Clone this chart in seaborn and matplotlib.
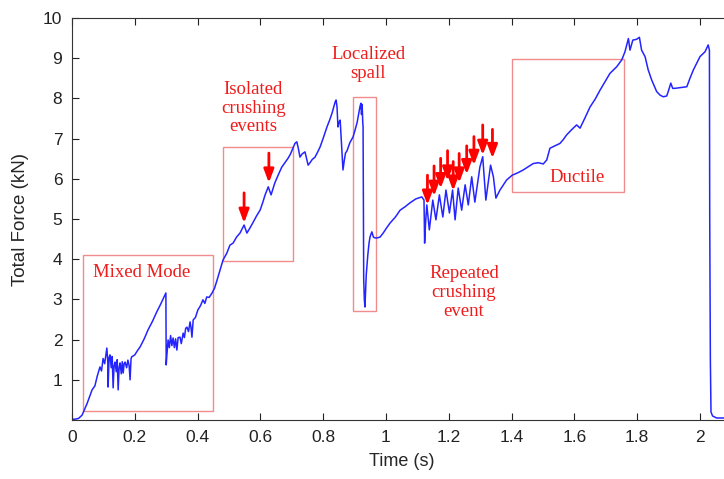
import matplotlib
matplotlib.use("Agg")
import matplotlib.pyplot as plt
import seaborn as sns
import pandas as pd
from matplotlib.patches import Rectangle

# force trace: time (s), total force (kN)
time_s = [
    0.000, 0.010, 0.021, 0.032, 0.048, 0.064, 0.073, 0.080, 0.089, 0.094,
    0.099, 0.104, 0.111, 0.114, 0.115, 0.118, 0.121, 0.125, 0.128, 0.131,
    0.134, 0.137, 0.141, 0.144, 0.147, 0.150, 0.153, 0.157, 0.160, 0.163,
    0.166, 0.169, 0.174, 0.178, 0.182, 0.185, 0.188, 0.190, 0.200, 0.208,
    0.217, 0.230, 0.242, 0.256, 0.270, 0.281, 0.291, 0.299, 0.300, 0.302,
    0.306, 0.310, 0.314, 0.318, 0.322, 0.326, 0.330, 0.334, 0.338, 0.344,
    0.348, 0.354, 0.358, 0.362, 0.366, 0.371, 0.376, 0.379, 0.382, 0.386,
    0.393, 0.401, 0.409, 0.417, 0.423, 0.429, 0.437, 0.446, 0.454, 0.462,
    0.471, 0.481, 0.493, 0.503, 0.513, 0.524, 0.535, 0.548, 0.557, 0.567,
    0.577, 0.588, 0.599, 0.607, 0.615, 0.625, 0.634, 0.640, 0.646, 0.657,
    0.668, 0.678, 0.688, 0.696, 0.704, 0.710, 0.716, 0.721, 0.726, 0.733,
    0.742, 0.747, 0.752, 0.758, 0.765, 0.774, 0.782, 0.790, 0.800, 0.812,
    0.820, 0.828, 0.834, 0.838, 0.841, 0.844, 0.847, 0.850, 0.854, 0.858,
    0.863, 0.867, 0.871, 0.876, 0.885, 0.895, 0.901, 0.908, 0.914, 0.917,
    0.920, 0.922, 0.924, 0.926, 0.927, 0.928, 0.929, 0.931, 0.933, 0.935,
    0.937, 0.939, 0.942, 0.946, 0.949, 0.952, 0.955, 0.960, 0.965, 0.972,
    0.981, 0.991, 1.002, 1.013, 1.030, 1.045, 1.060, 1.076, 1.095, 1.114,
    1.121, 1.123, 1.126, 1.130, 1.138, 1.149, 1.159, 1.170, 1.181, 1.191,
    1.202, 1.212, 1.220, 1.230, 1.241, 1.252, 1.262, 1.273, 1.283, 1.299,
    1.308, 1.318, 1.333, 1.342, 1.350, 1.363, 1.384, 1.402, 1.420, 1.437,
    1.453, 1.469, 1.485, 1.501, 1.512, 1.522, 1.538, 1.554, 1.565, 1.575,
    1.591, 1.607, 1.618, 1.634, 1.650, 1.666, 1.682, 1.698, 1.713, 1.735,
    1.751, 1.761, 1.772, 1.777, 1.786, 1.798, 1.807, 1.814, 1.825, 1.835,
    1.846, 1.862, 1.873, 1.883, 1.894, 1.900, 1.907, 1.913, 1.920, 1.940,
    1.958, 1.968, 1.979, 1.990, 2.000, 2.016, 2.026, 2.030, 2.031, 2.033,
    2.035, 2.040, 2.053, 2.100,
]
force_kn = [
    0.02, 0.02, 0.04, 0.12, 0.41, 0.75, 0.85, 1.08, 1.32, 1.22,
    1.53, 1.40, 1.79, 1.45, 0.82, 1.55, 1.62, 1.30, 1.58, 0.80,
    1.35, 1.44, 1.20, 1.50, 0.75, 1.30, 1.42, 1.15, 1.45, 1.17,
    1.40, 1.44, 1.30, 1.49, 1.35, 1.00, 1.52, 1.57, 1.62, 1.72,
    1.82, 2.02, 2.24, 2.45, 2.69, 2.86, 3.03, 3.16, 1.37, 1.60,
    1.99, 1.80, 2.10, 1.85, 2.04, 1.80, 2.02, 1.74, 2.05, 2.06,
    1.90, 2.16, 2.05, 2.28, 2.31, 2.20, 2.44, 2.30, 2.06, 2.49,
    2.55, 2.74, 2.84, 2.99, 2.90, 3.06, 3.05, 3.16, 3.28, 3.48,
    3.72, 3.98, 4.15, 4.35, 4.40, 4.55, 4.65, 4.85, 4.65, 4.78,
    4.92, 5.08, 5.22, 5.40, 5.60, 5.80, 5.60, 5.75, 5.90, 6.10,
    6.29, 6.40, 6.51, 6.62, 6.77, 6.88, 6.92, 6.75, 6.54, 6.62,
    6.67, 6.50, 6.34, 6.40, 6.48, 6.54, 6.66, 6.79, 7.01, 7.29,
    7.45, 7.63, 7.80, 7.91, 7.96, 7.79, 7.29, 7.40, 7.46, 6.90,
    6.22, 6.45, 6.64, 6.70, 6.90, 7.04, 7.20, 7.40, 7.65, 7.79,
    7.88, 7.60, 7.85, 7.40, 7.29, 5.50, 3.50, 3.00, 2.81, 3.20,
    3.60, 3.81, 4.10, 4.40, 4.55, 4.62, 4.68, 4.55, 4.53, 4.53,
    4.55, 4.65, 4.78, 4.90, 5.05, 5.22, 5.30, 5.40, 5.50, 5.55,
    5.47, 4.40, 4.90, 5.35, 4.73, 5.47, 4.98, 5.60, 5.05, 5.72,
    5.15, 5.72, 4.98, 5.77, 5.22, 5.85, 5.35, 6.05, 5.42, 6.29,
    6.55, 5.47, 6.34, 6.05, 5.52, 5.72, 5.97, 6.09, 6.15, 6.22,
    6.30, 6.38, 6.40, 6.37, 6.47, 6.76, 6.82, 6.88, 6.98, 7.09,
    7.22, 7.34, 7.26, 7.52, 7.79, 7.98, 8.21, 8.42, 8.62, 8.79,
    8.96, 9.16, 9.49, 9.20, 9.45, 9.47, 9.52, 9.20, 9.04, 8.71,
    8.46, 8.17, 8.08, 8.04, 8.06, 8.20, 8.38, 8.25, 8.25, 8.27,
    8.29, 8.50, 8.71, 8.88, 9.04, 9.16, 9.33, 9.20, 5.00, 1.50,
    0.20, 0.10, 0.05, 0.05,
]

# annotated regions: box corners and label centre
region_labels = ["Mixed Mode", "Isolated\ncrushing\nevents", "Localized\nspall",
                 "Repeated\ncrushing\nevent", "Ductile"]
box_x0 = [0.034, 0.480, 0.894, None, 1.402]
box_x1 = [0.448, 0.703, 0.967, None, 1.758]
box_y0 = [0.23, 3.96, 2.72, None, 5.68]
box_y1 = [4.11, 6.78, 8.04, None, 8.98]
label_x = [0.221, 0.577, 0.943, 1.248, 1.610]
label_y = [3.68, 7.76, 8.86, 3.18, 6.04]

# crushing-event arrows: x, shaft top, head tip
arrow_t = [0.548, 0.627, 1.132, 1.153, 1.174, 1.196, 1.214, 1.233, 1.257, 1.280, 1.308, 1.339]
arrow_top = [5.65, 6.64, 6.09, 6.32, 6.51, 6.70, 6.43, 6.63, 6.82, 7.05, 7.34, 7.23]
arrow_tip = [4.90, 5.90, 5.35, 5.57, 5.76, 5.95, 5.70, 5.90, 6.11, 6.34, 6.59, 6.51]

sns.set_theme(style="ticks")
plt.rcParams["font.family"] = ["Liberation Sans", "DejaVu Sans"]

fig = plt.figure(figsize=(7.24, 4.79), dpi=100)
# axes run past the right edge, as in the cropped original
ax = fig.add_axes([72 / 724, 59 / 479, 659.4 / 724, 402 / 479])

df = pd.DataFrame({"t": time_s, "F": force_kn})
sns.lineplot(data=df, x="t", y="F", sort=False, estimator=None,
             color="#2424ff", linewidth=1.1, ax=ax)

for i, lab in enumerate(region_labels):
    if box_x0[i] is not None:
        ax.add_patch(Rectangle((box_x0[i], box_y0[i]), box_x1[i] - box_x0[i],
                               box_y1[i] - box_y0[i], fill=False,
                               edgecolor="#f08c8c", linewidth=1.0))
    ax.text(label_x[i], label_y[i], lab, ha="center", va="center",
            color="#ee1c1c", fontsize=13.5, family="Liberation Serif",
            linespacing=1.15)

for t, top, tip in zip(arrow_t, arrow_top, arrow_tip):
    ax.annotate("", xy=(t, tip), xytext=(t, top),
                arrowprops=dict(arrowstyle="-|>,head_width=0.3,head_length=0.8",
                                color="#ff0000", lw=2.0, shrinkA=0, shrinkB=0,
                                mutation_scale=10))

ax.set_xlim(0, 2.1)
ax.set_ylim(0, 10)
ax.set_xticks([0, 0.2, 0.4, 0.6, 0.8, 1, 1.2, 1.4, 1.6, 1.8, 2])
ax.set_xticklabels(["0", "0.2", "0.4", "0.6", "0.8", "1", "1.2", "1.4", "1.6", "1.8", "2"])
ax.set_yticks(range(1, 11))
ax.set_xlabel("Time (s)", fontsize=13, labelpad=6)
ax.set_ylabel("Total Force (kN)", fontsize=13.5, labelpad=10)
ax.tick_params(direction="in", length=5, width=0.8, labelsize=12.5, pad=7,
               top=True, colors="#222222")
for side in ["left", "bottom", "top"]:
    ax.spines[side].set_visible(True)
    ax.spines[side].set_linewidth(0.8)
    ax.spines[side].set_color("#333333")
ax.spines["right"].set_visible(False)

fig.savefig("out.png", dpi=100)
